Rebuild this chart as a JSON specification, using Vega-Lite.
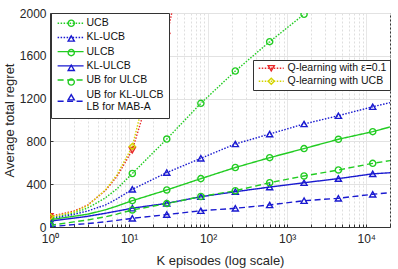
{
  "$schema": "https://vega.github.io/schema/vega-lite/v6.json",
  "width": 340,
  "height": 214,
  "autosize": {"type": "none"},
  "padding": {"left": 50, "top": 13, "right": 8, "bottom": 42},
  "config": {
    "font": "Liberation Sans",
    "view": {"stroke": "#333333", "strokeWidth": 1}
  },
  "data": {
    "values": [
      {"series": "UCB", "K": 1, "regret": 85},
      {"series": "UCB", "K": 2, "regret": 130},
      {"series": "UCB", "K": 3, "regret": 178},
      {"series": "UCB", "K": 5, "regret": 272},
      {"series": "UCB", "K": 7, "regret": 355},
      {"series": "UCB", "K": 11, "regret": 500},
      {"series": "UCB", "K": 30, "regret": 822},
      {"series": "UCB", "K": 81, "regret": 1156},
      {"series": "UCB", "K": 221, "regret": 1458},
      {"series": "UCB", "K": 601, "regret": 1732},
      {"series": "UCB", "K": 1636, "regret": 1988},
      {"series": "KL-UCB", "K": 1, "regret": 75},
      {"series": "KL-UCB", "K": 2, "regret": 118},
      {"series": "KL-UCB", "K": 3, "regret": 150},
      {"series": "KL-UCB", "K": 5, "regret": 205},
      {"series": "KL-UCB", "K": 7, "regret": 262},
      {"series": "KL-UCB", "K": 11, "regret": 352},
      {"series": "KL-UCB", "K": 30, "regret": 508},
      {"series": "KL-UCB", "K": 81, "regret": 642},
      {"series": "KL-UCB", "K": 221, "regret": 776},
      {"series": "KL-UCB", "K": 601, "regret": 869},
      {"series": "KL-UCB", "K": 1636, "regret": 963},
      {"series": "KL-UCB", "K": 4447, "regret": 1040},
      {"series": "KL-UCB", "K": 12088, "regret": 1124},
      {"series": "KL-UCB", "K": 20000, "regret": 1162},
      {"series": "ULCB", "K": 1, "regret": 68},
      {"series": "ULCB", "K": 2, "regret": 100},
      {"series": "ULCB", "K": 3, "regret": 120},
      {"series": "ULCB", "K": 5, "regret": 160},
      {"series": "ULCB", "K": 7, "regret": 195},
      {"series": "ULCB", "K": 11, "regret": 246},
      {"series": "ULCB", "K": 30, "regret": 346},
      {"series": "ULCB", "K": 81, "regret": 452},
      {"series": "ULCB", "K": 221, "regret": 556},
      {"series": "ULCB", "K": 601, "regret": 648},
      {"series": "ULCB", "K": 1636, "regret": 733},
      {"series": "ULCB", "K": 4447, "regret": 820},
      {"series": "ULCB", "K": 12088, "regret": 891},
      {"series": "ULCB", "K": 20000, "regret": 935},
      {"series": "KL-ULCB", "K": 1, "regret": 55},
      {"series": "KL-ULCB", "K": 2, "regret": 83},
      {"series": "KL-ULCB", "K": 3, "regret": 100},
      {"series": "KL-ULCB", "K": 5, "regret": 128},
      {"series": "KL-ULCB", "K": 7, "regret": 148},
      {"series": "KL-ULCB", "K": 11, "regret": 176},
      {"series": "KL-ULCB", "K": 30, "regret": 221},
      {"series": "KL-ULCB", "K": 81, "regret": 283},
      {"series": "KL-ULCB", "K": 221, "regret": 330},
      {"series": "KL-ULCB", "K": 601, "regret": 373},
      {"series": "KL-ULCB", "K": 1636, "regret": 414},
      {"series": "KL-ULCB", "K": 4447, "regret": 452},
      {"series": "KL-ULCB", "K": 12088, "regret": 497},
      {"series": "KL-ULCB", "K": 20000, "regret": 507},
      {"series": "UB for ULCB", "K": 1, "regret": 15},
      {"series": "UB for ULCB", "K": 2, "regret": 48},
      {"series": "UB for ULCB", "K": 3, "regret": 66},
      {"series": "UB for ULCB", "K": 5, "regret": 95},
      {"series": "UB for ULCB", "K": 7, "regret": 120},
      {"series": "UB for ULCB", "K": 11, "regret": 159},
      {"series": "UB for ULCB", "K": 30, "regret": 219},
      {"series": "UB for ULCB", "K": 81, "regret": 285},
      {"series": "UB for ULCB", "K": 221, "regret": 339},
      {"series": "UB for ULCB", "K": 601, "regret": 414},
      {"series": "UB for ULCB", "K": 1636, "regret": 477},
      {"series": "UB for ULCB", "K": 4447, "regret": 533},
      {"series": "UB for ULCB", "K": 12088, "regret": 595},
      {"series": "UB for ULCB", "K": 20000, "regret": 620},
      {"series": "UB for KL-ULCB / LB for MAB-A", "K": 1, "regret": 3},
      {"series": "UB for KL-ULCB / LB for MAB-A", "K": 2, "regret": 22},
      {"series": "UB for KL-ULCB / LB for MAB-A", "K": 3, "regret": 32},
      {"series": "UB for KL-ULCB / LB for MAB-A", "K": 5, "regret": 48},
      {"series": "UB for KL-ULCB / LB for MAB-A", "K": 7, "regret": 62},
      {"series": "UB for KL-ULCB / LB for MAB-A", "K": 11, "regret": 81},
      {"series": "UB for KL-ULCB / LB for MAB-A", "K": 30, "regret": 116},
      {"series": "UB for KL-ULCB / LB for MAB-A", "K": 81, "regret": 152},
      {"series": "UB for KL-ULCB / LB for MAB-A", "K": 221, "regret": 175},
      {"series": "UB for KL-ULCB / LB for MAB-A", "K": 601, "regret": 206},
      {"series": "UB for KL-ULCB / LB for MAB-A", "K": 1636, "regret": 246},
      {"series": "UB for KL-ULCB / LB for MAB-A", "K": 4447, "regret": 268},
      {"series": "UB for KL-ULCB / LB for MAB-A", "K": 12088, "regret": 306},
      {"series": "UB for KL-ULCB / LB for MAB-A", "K": 20000, "regret": 321},
      {"series": "Q-learning with ε=0.1", "K": 1, "regret": 100},
      {"series": "Q-learning with ε=0.1", "K": 2, "regret": 148},
      {"series": "Q-learning with ε=0.1", "K": 3, "regret": 205},
      {"series": "Q-learning with ε=0.1", "K": 5, "regret": 340},
      {"series": "Q-learning with ε=0.1", "K": 7, "regret": 470},
      {"series": "Q-learning with ε=0.1", "K": 11, "regret": 718},
      {"series": "Q-learning with ε=0.1", "K": 30, "regret": 1785},
      {"series": "Q-learning with ε=0.1", "K": 81, "regret": 3260},
      {"series": "Q-learning with UCB", "K": 1, "regret": 95},
      {"series": "Q-learning with UCB", "K": 2, "regret": 140},
      {"series": "Q-learning with UCB", "K": 3, "regret": 200},
      {"series": "Q-learning with UCB", "K": 5, "regret": 345},
      {"series": "Q-learning with UCB", "K": 7, "regret": 485},
      {"series": "Q-learning with UCB", "K": 11, "regret": 752},
      {"series": "Q-learning with UCB", "K": 30, "regret": 2060},
      {"series": "Q-learning with UCB", "K": 81, "regret": 4500}
    ]
  },
  "encoding": {
    "x": {
      "field": "K",
      "type": "quantitative",
      "scale": {"type": "log", "domain": [1, 20000], "nice": false},
      "axis": {
        "title": "K episodes (log scale)",
        "values": [1, 2, 3, 4, 5, 6, 7, 8, 9, 10, 20, 30, 40, 50, 60, 70, 80, 90, 100, 200, 300, 400, 500, 600, 700, 800, 900, 1000, 2000, 3000, 4000, 5000, 6000, 7000, 8000, 9000, 10000, 20000],
        "labelExpr": "datum.value == 1 ? '10⁰' : datum.value == 10 ? '10¹' : datum.value == 100 ? '10²' : datum.value == 1000 ? '10³' : datum.value == 10000 ? '10⁴' : ''",
        "labelOverlap": false,
        "labelFlush": false,
        "labelFontSize": 12,
        "labelColor": "#262626",
        "labelPadding": 9,
        "titleFontSize": 13,
        "titleFontWeight": "normal",
        "titleColor": "#262626",
        "titlePadding": 10,
        "domainColor": "#333333",
        "tickColor": "#333333",
        "tickSize": -3,
        "grid": true,
        "gridColor": "#dedede",
        "gridDash": {"condition": {"test": "datum.value == 1 || datum.value == 10 || datum.value == 100 || datum.value == 1000 || datum.value == 10000", "value": [1, 0]}, "value": [2, 2]}
      }
    },
    "y": {
      "field": "regret",
      "type": "quantitative",
      "scale": {"domain": [0, 2000], "nice": false},
      "axis": {
        "title": "Average total regret",
        "values": [0, 400, 800, 1200, 1600, 2000],
        "format": "d",
        "labelFontSize": 12,
        "labelColor": "#262626",
        "labelPadding": 7,
        "titleFontSize": 13,
        "titleFontWeight": "normal",
        "titleColor": "#262626",
        "titlePadding": 3,
        "domainColor": "#333333",
        "tickColor": "#333333",
        "tickSize": -3,
        "grid": true,
        "gridColor": "#e2e2e2"
      }
    }
  },
  "layer": [
    {
      "transform": [{"filter": {"field": "series", "oneOf": ["UCB", "KL-UCB", "ULCB", "KL-ULCB", "UB for ULCB", "UB for KL-ULCB / LB for MAB-A"]}}],
      "mark": {"type": "line", "clip": true, "strokeWidth": 1.4},
      "encoding": {
        "color": {
          "field": "series", "type": "nominal",
          "scale": {"domain": ["UCB", "KL-UCB", "ULCB", "KL-ULCB", "UB for ULCB", "UB for KL-ULCB / LB for MAB-A"], "range": ["#22cc22", "#1a1ad0", "#22cc22", "#1a1ad0", "#22cc22", "#1a1ad0"]},
          "legend": {"orient": "none", "legendX": 1, "legendY": 0, "title": null, "padding": 5, "fillColor": "white", "strokeColor": "#333333", "symbolType": "M-1.4,0H8.6", "symbolSize": 27, "symbolStrokeWidth": 1.4, "labelFontSize": 10.5, "labelColor": "#111111", "labelOffset": 20, "rowPadding": 3.2, "labelLimit": 0, "labelExpr": "split(datum.label, ' / ')", "encode": {"labels": {"update": {"dy": {"signal": "indexof(datum.value, ' / ') >= 0 ? -6.5 : 0"}}}}}
        },
        "strokeDash": {
          "field": "series", "type": "nominal",
          "scale": {"domain": ["UCB", "KL-UCB", "ULCB", "KL-ULCB", "UB for ULCB", "UB for KL-ULCB / LB for MAB-A"], "range": [[1.5, 1.5], [1.5, 1.5], [1, 0], [1, 0], [6, 3.5], [6, 3.5]]},
          "legend": {"orient": "none", "legendX": 1, "legendY": 0, "title": null, "padding": 5, "fillColor": "white", "strokeColor": "#333333", "symbolType": "M-1.4,0H8.6", "symbolSize": 27, "symbolStrokeWidth": 1.4, "labelFontSize": 10.5, "labelColor": "#111111", "labelOffset": 20, "rowPadding": 3.2, "labelLimit": 0, "labelExpr": "split(datum.label, ' / ')", "encode": {"labels": {"update": {"dy": {"signal": "indexof(datum.value, ' / ') >= 0 ? -6.5 : 0"}}}}}
        }
      }
    },
    {
      "transform": [
        {"filter": {"field": "series", "oneOf": ["UCB", "KL-UCB", "ULCB", "KL-ULCB", "UB for ULCB", "UB for KL-ULCB / LB for MAB-A"]}},
        {"filter": {"field": "K", "oneOf": [1, 11, 30, 81, 221, 601, 1636, 4447, 12088]}}
      ],
      "mark": {"type": "point", "clip": true, "filled": false, "strokeWidth": 1.4, "size": 38, "opacity": 1},
      "encoding": {
        "color": {
          "field": "series", "type": "nominal",
          "scale": {"domain": ["UCB", "KL-UCB", "ULCB", "KL-ULCB", "UB for ULCB", "UB for KL-ULCB / LB for MAB-A"], "range": ["#22cc22", "#1a1ad0", "#22cc22", "#1a1ad0", "#22cc22", "#1a1ad0"]},
          "legend": {"orient": "none", "legendX": 11, "legendY": 0, "title": null, "padding": 5, "symbolSize": 38, "symbolStrokeWidth": 1.4, "labelFontSize": 10.5, "labelColor": "transparent", "labelOffset": 2, "rowPadding": 2.2, "labelLimit": 0, "labelExpr": "split(datum.label, ' / ')", "encode": {"labels": {"update": {"dy": {"signal": "indexof(datum.value, ' / ') >= 0 ? -6.5 : 0"}}}}}
        },
        "shape": {
          "field": "series", "type": "nominal",
          "scale": {"domain": ["UCB", "KL-UCB", "ULCB", "KL-ULCB", "UB for ULCB", "UB for KL-ULCB / LB for MAB-A"], "range": ["circle", "triangle-up", "circle", "triangle-up", "circle", "triangle-up"]},
          "legend": {"orient": "none", "legendX": 11, "legendY": 0, "title": null, "padding": 5, "symbolSize": 38, "symbolStrokeWidth": 1.4, "labelFontSize": 10.5, "labelColor": "transparent", "labelOffset": 2, "rowPadding": 2.2, "labelLimit": 0, "labelExpr": "split(datum.label, ' / ')", "encode": {"labels": {"update": {"dy": {"signal": "indexof(datum.value, ' / ') >= 0 ? -6.5 : 0"}}}}}
        }
      }
    },
    {
      "transform": [{"filter": {"field": "series", "oneOf": ["Q-learning with ε=0.1", "Q-learning with UCB"]}}],
      "mark": {"type": "line", "clip": true, "strokeWidth": 1.4},
      "encoding": {
        "color": {
          "field": "series", "type": "nominal",
          "scale": {"domain": ["Q-learning with ε=0.1", "Q-learning with UCB"], "range": ["#e8282b", "#d4d400"]},
          "legend": {"orient": "none", "legendX": 203, "legendY": 47, "title": null, "padding": 3, "fillColor": "white", "strokeColor": "#333333", "symbolType": "M-1,0H9", "symbolSize": 25, "symbolStrokeWidth": 1.4, "labelFontSize": 10.5, "labelColor": "#111111", "labelOffset": 21, "rowPadding": 2, "labelLimit": 0}
        },
        "strokeDash": {
          "field": "series", "type": "nominal",
          "scale": {"domain": ["Q-learning with ε=0.1", "Q-learning with UCB"], "range": [[1.5, 1.5], [1.5, 1.5]]},
          "legend": {"orient": "none", "legendX": 203, "legendY": 47, "title": null, "padding": 3, "fillColor": "white", "strokeColor": "#333333", "symbolType": "M-1,0H9", "symbolSize": 25, "symbolStrokeWidth": 1.4, "labelFontSize": 10.5, "labelColor": "#111111", "labelOffset": 21, "rowPadding": 2, "labelLimit": 0}
        }
      }
    },
    {
      "transform": [
        {"filter": {"field": "series", "oneOf": ["Q-learning with ε=0.1", "Q-learning with UCB"]}},
        {"filter": {"field": "K", "oneOf": [1, 11, 30, 81]}}
      ],
      "mark": {"type": "point", "clip": true, "filled": false, "strokeWidth": 1.4, "size": 38, "opacity": 1},
      "encoding": {
        "color": {
          "field": "series", "type": "nominal",
          "scale": {"domain": ["Q-learning with ε=0.1", "Q-learning with UCB"], "range": ["#e8282b", "#d4d400"]},
          "legend": {"orient": "none", "legendX": 213, "legendY": 47, "title": null, "padding": 3, "symbolSize": 38, "symbolStrokeWidth": 1.4, "labelFontSize": 10.5, "labelColor": "transparent", "labelOffset": 2, "rowPadding": 1, "labelLimit": 0}
        },
        "shape": {
          "field": "series", "type": "nominal",
          "scale": {"domain": ["Q-learning with ε=0.1", "Q-learning with UCB"], "range": ["triangle-down", "diamond"]},
          "legend": {"orient": "none", "legendX": 213, "legendY": 47, "title": null, "padding": 3, "symbolSize": 38, "symbolStrokeWidth": 1.4, "labelFontSize": 10.5, "labelColor": "transparent", "labelOffset": 2, "rowPadding": 1, "labelLimit": 0}
        }
      }
    }
  ],
  "resolve": {
    "scale": {"color": "independent", "strokeDash": "independent", "shape": "independent"},
    "legend": {"color": "independent", "strokeDash": "independent", "shape": "independent"}
  }
}
